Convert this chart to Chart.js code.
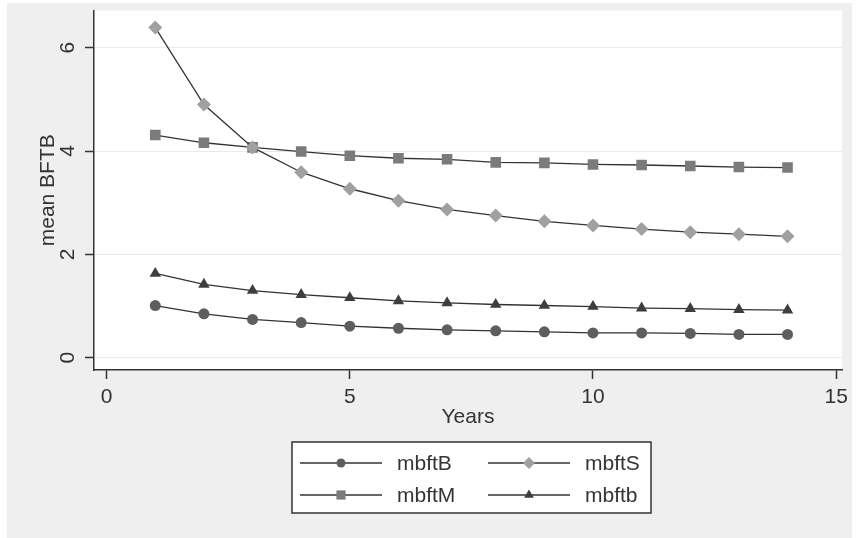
<!DOCTYPE html>
<html lang="en">
<head>
    <meta charset="UTF-8">
    <title>mean BFTB by Years</title>
    <script src="https://cdn.jsdelivr.net/npm/chart.js@4.4.0/dist/chart.umd.min.js"></script>
    <style>
        html, body {
            margin: 0;
            padding: 0;
            background: #ffffff;
        }
        .chart-box {
            position: absolute;
            left: 7px;
            top: 3px;
            width: 845px;
            height: 535px;
            background: #efefef;
        }
    </style>
</head>
<body>
    <div class="chart-box">
        <canvas id="bftbChart"></canvas>
    </div>

    <script>
        // values
        const years = [1, 2, 3, 4, 5, 6, 7, 8, 9, 10, 11, 12, 13, 14];
        const mbftB = [1.01, 0.85, 0.74, 0.68, 0.61, 0.57, 0.54, 0.52, 0.50, 0.48, 0.48, 0.47, 0.45, 0.45];
        const mbftS = [6.39, 4.90, 4.07, 3.59, 3.27, 3.04, 2.87, 2.75, 2.64, 2.56, 2.49, 2.43, 2.39, 2.35];
        const mbftM = [4.31, 4.16, 4.07, 3.99, 3.91, 3.86, 3.84, 3.78, 3.77, 3.74, 3.73, 3.71, 3.69, 3.68];
        const mbftb = [1.63, 1.42, 1.30, 1.22, 1.16, 1.10, 1.06, 1.03, 1.01, 0.99, 0.96, 0.95, 0.93, 0.92];
        const xTicks = [0, 5, 10, 15];
        const yTicks = [0, 2, 4, 6];

        const FONT = 'Liberation Sans, Arial, sans-serif';
        const TEXT = '#333333';
        const LINE = '#333333';

        const series = [
            { label: 'mbftB', values: mbftB, color: '#5e5e5e', style: 'circle', radius: 5.5 },
            { label: 'mbftS', values: mbftS, color: '#a0a0a0', style: 'rectRot', radius: 7 },
            { label: 'mbftM', values: mbftM, color: '#7b7b7b', style: 'rect', radius: 7.5 },
            { label: 'mbftb', values: mbftb, color: '#3e3e3e', style: 'triangle', radius: 6.6 }
        ];

        function toPoints(values) {
            return years.map((yr, i) => ({ x: yr, y: values[i] }));
        }

        // white plot region on the grey panel
        const plotBackground = {
            id: 'plotBackground',
            beforeDraw(chart) {
                const a = chart.chartArea;
                const ctx = chart.ctx;
                ctx.save();
                ctx.fillStyle = '#ffffff';
                ctx.fillRect(a.left, a.top, a.right - a.left, a.bottom - a.top);
                ctx.restore();
            }
        };

        // Stata style legend: boxed, 2 columns, line with marker
        const boxedLegend = {
            id: 'boxedLegend',
            afterDraw(chart) {
                const ctx = chart.ctx;
                const a = chart.chartArea;
                const boxW = 359, boxH = 71;
                const left = Math.round((a.left + a.right) / 2 - boxW / 2 + 3);
                const top = 439;
                ctx.save();
                ctx.fillStyle = '#ffffff';
                ctx.fillRect(left, top, boxW, boxH);
                ctx.strokeStyle = LINE;
                ctx.lineWidth = 1.5;
                ctx.strokeRect(left, top, boxW, boxH);

                ctx.font = '21px ' + FONT;
                ctx.textBaseline = 'middle';
                ctx.textAlign = 'left';
                series.forEach((s, i) => {
                    const col = i % 2, row = Math.floor(i / 2);
                    const x0 = left + 8 + col * 188;
                    const y0 = top + 21 + row * 32;
                    ctx.strokeStyle = LINE;
                    ctx.lineWidth = 1.3;
                    ctx.beginPath();
                    ctx.moveTo(x0, y0);
                    ctx.lineTo(x0 + 82, y0);
                    ctx.stroke();
                    ctx.fillStyle = s.color;
                    ctx.strokeStyle = s.color;
                    Chart.helpers.drawPoint(ctx, { pointStyle: s.style, radius: s.radius - 1, rotation: 0, borderWidth: 0 }, x0 + 41, y0);
                    ctx.fillStyle = TEXT;
                    ctx.fillText(s.label, x0 + 97, y0 + 1);
                });
                ctx.restore();
            }
        };

        const ctx = document.getElementById('bftbChart').getContext('2d');
        new Chart(ctx, {
            type: 'line',
            data: {
                datasets: series.map(s => ({
                    label: s.label,
                    data: toPoints(s.values),
                    borderColor: LINE,
                    borderWidth: 1.3,
                    pointStyle: s.style,
                    pointRadius: s.radius,
                    pointBackgroundColor: s.color,
                    pointBorderColor: s.color,
                    pointBorderWidth: 0,
                    tension: 0,
                    fill: false
                }))
            },
            options: {
                responsive: true,
                maintainAspectRatio: false,
                animation: false,
                layout: {
                    padding: { left: 0, right: 10, top: 1, bottom: 108 }
                },
                plugins: {
                    legend: { display: false },
                    tooltip: { enabled: false }
                },
                scales: {
                    x: {
                        type: 'linear',
                        min: -0.26,
                        max: 15.12,
                        afterBuildTicks: scale => {
                            scale.ticks = xTicks.map(v => ({ value: v }));
                        },
                        afterFit: scale => {
                            scale.height = 60;
                            scale.paddingLeft = 0;
                            scale.paddingRight = 0;
                        },
                        border: { display: true, color: LINE, width: 1.5 },
                        grid: {
                            drawOnChartArea: false,
                            drawTicks: true,
                            tickLength: 9,
                            tickColor: LINE,
                            tickWidth: 1.5
                        },
                        ticks: {
                            color: TEXT,
                            padding: 6,
                            maxRotation: 0,
                            font: { family: FONT, size: 21 }
                        },
                        title: {
                            display: true,
                            text: 'Years',
                            color: TEXT,
                            padding: { top: 0, bottom: 0 },
                            font: { family: FONT, size: 21 }
                        }
                    },
                    y: {
                        type: 'linear',
                        min: -0.238,
                        max: 6.72,
                        afterBuildTicks: scale => {
                            scale.ticks = yTicks.map(v => ({ value: v }));
                        },
                        afterFit: scale => {
                            scale.width = 87;
                            scale.paddingTop = 0;
                            scale.paddingBottom = 0;
                        },
                        border: { display: true, color: LINE, width: 1.5 },
                        grid: {
                            color: '#eaeaea',
                            lineWidth: 1,
                            drawTicks: true,
                            tickLength: 9,
                            tickColor: LINE,
                            tickWidth: 1.5
                        },
                        ticks: {
                            color: TEXT,
                            padding: 11,
                            minRotation: 90,
                            maxRotation: 90,
                            crossAlign: 'center',
                            font: { family: FONT, size: 21 }
                        },
                        title: {
                            display: true,
                            text: 'mean BFTB',
                            color: TEXT,
                            padding: { top: 29, bottom: 0 },
                            font: { family: FONT, size: 21 }
                        }
                    }
                }
            },
            plugins: [plotBackground, boxedLegend]
        });
    </script>
</body>
</html>
